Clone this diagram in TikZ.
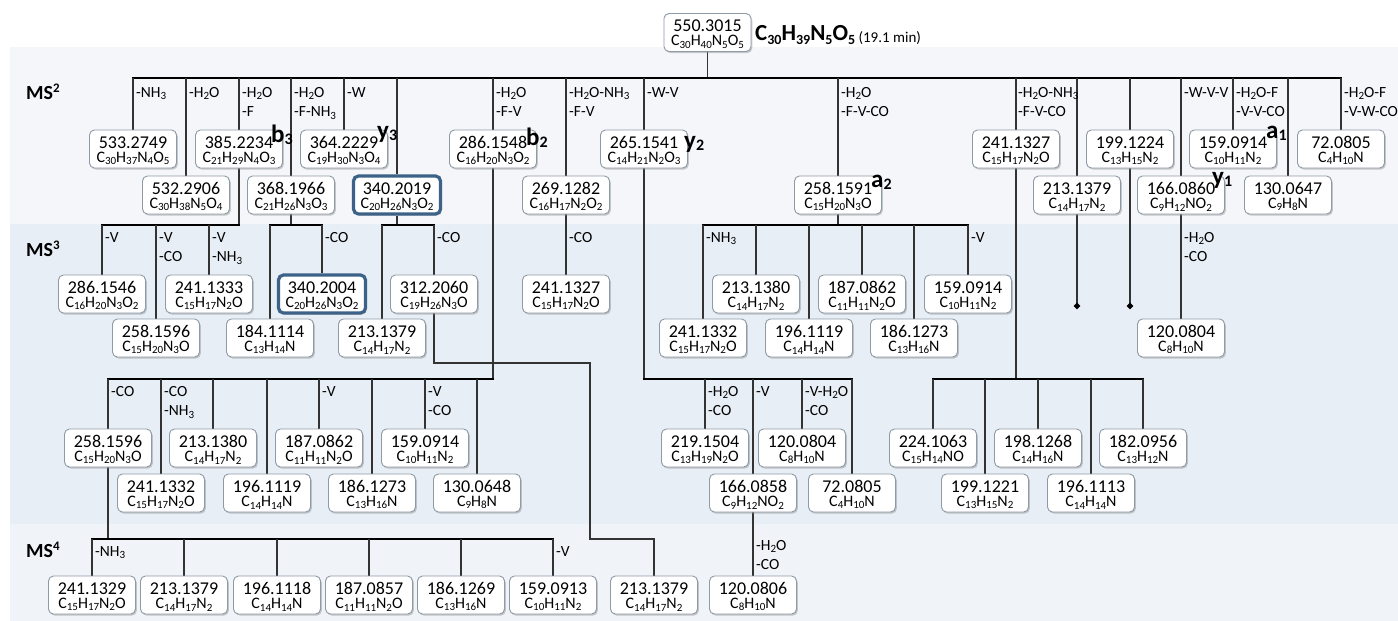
\documentclass[tikz,border=0pt]{standalone}
\usepackage{fontspec}
\setmainfont{Carlito}
\usetikzlibrary{shapes.geometric,shadows}
\definecolor{bandtwo}{HTML}{F4F6FA}
\definecolor{bandthree}{HTML}{E8EEF5}
\definecolor{bandfour}{HTML}{F0F3F7}
\definecolor{bordergray}{HTML}{8E9AA5}
\definecolor{hlblue}{HTML}{3D6287}
\definecolor{linecol}{HTML}{333333}
\pgfdeclarelayer{bands}
\pgfdeclarelayer{wires}
\pgfsetlayers{bands,wires,main}
\newcommand\dn[1]{\raisebox{-2.5pt}{\fontsize{11}{10}\selectfont #1}}
\newcommand\ldn[1]{\raisebox{-2.5pt}{\fontsize{11}{10}\selectfont #1}}
\newcommand\tdn[1]{\raisebox{-4pt}{\fontsize{14}{14}\selectfont #1}}
\newcommand\fdn[1]{\raisebox{-2.5pt}{\fontsize{16}{16}\selectfont #1}}
\newcommand\bx[6][ionbox]{\node[#1] (#2) at (#3,#4) {\rule{0pt}{15.5pt}#5\\{\fontsize{16}{14}\selectfont #6}};}
\newcommand\lb[4]{\node[lab] (#1) at (#2,#3) {#4};}
\begin{document}
\begin{tikzpicture}[x=1pt,y=-1pt,
 ionbox/.style={draw=bordergray, line width=0.9pt, fill=white, rounded corners=5pt,
   minimum width=87pt, minimum height=38pt, inner sep=0pt, align=center,
   font=\fontsize{18}{14}\selectfont,
   drop shadow={shadow xshift=1.3pt, shadow yshift=-1.6pt, fill=black!45, opacity=0.45}},
 hlbox/.style={ionbox, draw=hlblue, line width=3.2pt},
 lab/.style={anchor=north west, inner sep=0pt, align=left, font=\fontsize{15.5}{19.5}\selectfont},
 frag/.style={anchor=base west, inner sep=0pt, font=\fontsize{25}{25}\selectfont\bfseries},
 mslab/.style={anchor=base west, inner sep=0pt, font=\fontsize{20}{20}\selectfont\bfseries},
 ln/.style={draw=linecol, line width=1.3pt},
 bus/.style={draw=black, line width=1.6pt, line cap=rect},
 tip/.style={diamond, fill=black, inner sep=0pt, minimum size=7pt}]
\useasboundingbox (0,0) rectangle (1398,621);
\begin{pgfonlayer}{bands}
\fill[white] (0,0) rectangle (1398,621);
\fill[bandtwo] (10,47) rectangle (1398,224);
\fill[bandthree] (10,224) rectangle (1398,524);
\fill[bandfour] (10,524) rectangle (1398,621);
\end{pgfonlayer}

% precursor
\bx{n550}{707.5}{32.5}{550.3015}{C\dn{30}H\dn{40}N\dn{5}O\dn{5}}
\node[anchor=base west, inner sep=0pt, font=\fontsize{23}{23}\selectfont\bfseries] (title) at (755,40)
 {C\tdn{30}H\tdn{39}N\tdn{5}O\tdn{5}\raisebox{-2pt}{\fontsize{15}{15}\selectfont\mdseries\ (19.1 min)}};

% MS labels
\node[mslab] (ms2) at (26,99) {MS\raisebox{7pt}{\fontsize{13}{13}\selectfont 2}};
\node[mslab] (ms3) at (26,256) {MS\raisebox{7pt}{\fontsize{13}{13}\selectfont 3}};
\node[mslab] (ms4) at (26,557) {MS\raisebox{7pt}{\fontsize{13}{13}\selectfont 4}};

% MS2 row A
\bx{a533}{133}{149}{533.2749}{C\dn{30}H\dn{37}N\dn{4}O\dn{5}}
\bx{a385}{239}{149}{385.2234}{C\dn{21}H\dn{29}N\dn{4}O\dn{3}}
\bx{a364}{344}{149}{364.2229}{C\dn{19}H\dn{30}N\dn{3}O\dn{4}}
\bx{a286}{493}{149}{286.1548}{C\dn{16}H\dn{20}N\dn{3}O\dn{2}}
\bx{a265}{644}{149}{265.1541}{C\dn{14}H\dn{21}N\dn{2}O\dn{3}}
\bx{a241}{1016}{149}{241.1327}{C\dn{15}H\dn{17}N\dn{2}O}
\bx{a199}{1130}{149}{199.1224}{C\dn{13}H\dn{15}N\dn{2}}
\bx{a159}{1233}{149}{159.0914}{C\dn{10}H\dn{11}N\dn{2}}
\bx{a72}{1341}{149}{72.0805}{C\dn{4}H\dn{10}N}
% MS2 row B
\bx{b532}{186}{195}{532.2906}{C\dn{30}H\dn{38}N\dn{5}O\dn{4}}
\bx{b368}{291}{195}{368.1966}{C\dn{21}H\dn{26}N\dn{3}O\dn{3}}
\bx[hlbox]{b340}{397}{195}{340.2019}{C\dn{20}H\dn{26}N\dn{3}O\dn{2}}
\bx{b269}{566}{195}{269.1282}{C\dn{16}H\dn{17}N\dn{2}O\dn{2}}
\bx{b258}{838}{195}{258.1591}{C\dn{15}H\dn{20}N\dn{3}O}
\bx{b213}{1077}{195}{213.1379}{C\dn{14}H\dn{17}N\dn{2}}
\bx{b166}{1181}{195}{166.0860}{C\dn{9}H\dn{12}NO\dn{2}}
\bx{b130}{1288}{195}{130.0647}{C\dn{9}H\dn{8}N}

% MS3 upper rows
\bx{c286}{102}{294}{286.1546}{C\dn{16}H\dn{20}N\dn{3}O\dn{2}}
\bx{c241}{209}{294}{241.1333}{C\dn{15}H\dn{17}N\dn{2}O}
\bx[hlbox]{c340}{322}{294}{340.2004}{C\dn{20}H\dn{26}N\dn{3}O\dn{2}}
\bx{c312}{434}{294}{312.2060}{C\dn{19}H\dn{26}N\dn{3}O}
\bx{c241b}{566}{294}{241.1327}{C\dn{15}H\dn{17}N\dn{2}O}
\bx{c213}{756}{294}{213.1380}{C\dn{14}H\dn{17}N\dn{2}}
\bx{c187}{862}{294}{187.0862}{C\dn{11}H\dn{11}N\dn{2}O}
\bx{c159}{968}{294}{159.0914}{C\dn{10}H\dn{11}N\dn{2}}
\bx{d258}{156}{338}{258.1596}{C\dn{15}H\dn{20}N\dn{3}O}
\bx{d184}{270}{338}{184.1114}{C\dn{13}H\dn{14}N}
\bx{d213}{382}{338}{213.1379}{C\dn{14}H\dn{17}N\dn{2}}
\bx{d241}{703}{338}{241.1332}{C\dn{15}H\dn{17}N\dn{2}O}
\bx{d196}{809}{338}{196.1119}{C\dn{14}H\dn{14}N}
\bx{d186}{914}{338}{186.1273}{C\dn{13}H\dn{16}N}
\bx{d120}{1181}{338}{120.0804}{C\dn{8}H\dn{10}N}

% MS3 lower rows
\bx{e258}{108}{448}{258.1596}{C\dn{15}H\dn{20}N\dn{3}O}
\bx{e213}{213}{448}{213.1380}{C\dn{14}H\dn{17}N\dn{2}}
\bx{e187}{319}{448}{187.0862}{C\dn{11}H\dn{11}N\dn{2}O}
\bx{e159}{425}{448}{159.0914}{C\dn{10}H\dn{11}N\dn{2}}
\bx{e219}{705}{448}{219.1504}{C\dn{13}H\dn{19}N\dn{2}O}
\bx{e120}{802}{448}{120.0804}{C\dn{8}H\dn{10}N}
\bx{e224}{933}{448}{224.1063}{C\dn{15}H\dn{14}NO}
\bx{e198}{1038}{448}{198.1268}{C\dn{14}H\dn{16}N}
\bx{e182}{1143}{448}{182.0956}{C\dn{13}H\dn{12}N}
\bx{f241}{161}{493}{241.1332}{C\dn{15}H\dn{17}N\dn{2}O}
\bx{f196}{267}{493}{196.1119}{C\dn{14}H\dn{14}N}
\bx{f186}{372}{493}{186.1273}{C\dn{13}H\dn{16}N}
\bx{f130}{477}{493}{130.0648}{C\dn{9}H\dn{8}N}
\bx{f166}{753}{493}{166.0858}{C\dn{9}H\dn{12}NO\dn{2}}
\bx{f72}{852}{493}{72.0805}{C\dn{4}H\dn{10}N}
\bx{f199}{985}{493}{199.1221}{C\dn{13}H\dn{15}N\dn{2}}
\bx{f196b}{1091}{493}{196.1113}{C\dn{14}H\dn{14}N}

% MS4 row
\bx{g241}{92}{595}{241.1329}{C\dn{15}H\dn{17}N\dn{2}O}
\bx{g213}{184}{595}{213.1379}{C\dn{14}H\dn{17}N\dn{2}}
\bx{g196}{277}{595}{196.1118}{C\dn{14}H\dn{14}N}
\bx{g187}{369}{595}{187.0857}{C\dn{11}H\dn{11}N\dn{2}O}
\bx{g186}{461}{595}{186.1269}{C\dn{13}H\dn{16}N}
\bx{g159}{553}{595}{159.0913}{C\dn{10}H\dn{11}N\dn{2}}
\bx{g213b}{654}{595}{213.1379}{C\dn{14}H\dn{17}N\dn{2}}
\bx{g120}{753}{595}{120.0806}{C\dn{8}H\dn{10}N}

% diamonds and bend points
\node[tip] (t1) at (1077,306) {};
\node[tip] (t2) at (1130,306) {};
\coordinate (k1) at (590,363);
\coordinate (k2) at (590,539);

% fragment labels
\node[frag] (fb3) at (271,142) {b\fdn{3}};
\node[frag] (fy3) at (377,138) {y\fdn{3}};
\node[frag] (fb2) at (526,145) {b\fdn{2}};
\node[frag] (fy2) at (684,148) {y\fdn{2}};
\node[frag] (fa2) at (871,187) {a\fdn{2}};
\node[frag] (fa1) at (1266,138) {a\fdn{1}};
\node[frag] (fy1) at (1212,184) {y\fdn{1}};

% loss labels MS2
\lb{l1}{136}{87}{-NH\ldn{3}}
\lb{l2}{189}{87}{-H\ldn{2}O}
\lb{l3}{242}{87}{-H\ldn{2}O\\-F}
\lb{l4}{294}{87}{-H\ldn{2}O\\-F-NH\ldn{3}}
\lb{l5}{347}{87}{-W}
\lb{l6}{496}{87}{-H\ldn{2}O\\-F-V}
\lb{l7}{569}{87}{-H\ldn{2}O-NH\ldn{3}\\-F-V}
\lb{l8}{647}{87}{-W-V}
\lb{l9}{841}{87}{-H\ldn{2}O\\-F-V-CO}
\lb{l10}{1018}{87}{-H\ldn{2}O-NH\ldn{3}\\-F-V-CO}
\lb{l11}{1184}{87}{-W-V-V}
\lb{l12}{1236}{87}{-H\ldn{2}O-F\\-V-V-CO}
\lb{l13}{1344}{87}{-H\ldn{2}O-F\\-V-W-CO}
% MS3 upper
\lb{m1}{105}{232}{-V}
\lb{m2}{159}{232}{-V\\-CO}
\lb{m3}{212}{232}{-V\\-NH\ldn{3}}
\lb{m4}{325}{232}{-CO}
\lb{m5}{437}{232}{-CO}
\lb{m6}{569}{232}{-CO}
\lb{m7}{706}{232}{-NH\ldn{3}}
\lb{m8}{971}{232}{-V}
\lb{m9}{1184}{232}{-H\ldn{2}O\\-CO}
% MS3 lower
\lb{o1}{111}{386}{-CO}
\lb{o2}{164}{386}{-CO\\-NH\ldn{3}}
\lb{o3}{322}{386}{-V}
\lb{o4}{428}{386}{-V\\-CO}
\lb{o5}{708}{386}{-H\ldn{2}O\\-CO}
\lb{o6}{756}{386}{-V}
\lb{o7}{805}{386}{-V-H\ldn{2}O\\-CO}
% MS4
\lb{p1}{95}{546}{-NH\ldn{3}}
\lb{p2}{556}{546}{-V}
\lb{p3}{756}{540}{-H\ldn{2}O\\-CO}

\begin{pgfonlayer}{wires}
% MS2
\draw[ln] (n550.south) -- (n550.south |- 0,78);
\draw[bus] (a533.north |- 0,78) -- (a72.north |- 0,78);
\foreach \c in {a533,b532,a385,b368,a364,b340,a286,b269,a265,b258,a241,b213,a199,b166,a159,b130,a72}
  \draw[ln] (\c.north) -- (\c.north |- 0,78);
% from 385.2234
\draw[ln] (a385.south) -- (a385.south |- 0,225);
\draw[bus] (c286.north |- 0,225) -- (a385.south |- 0,225);
\foreach \c in {c286,d258,c241} \draw[ln] (\c.north) -- (\c.north |- 0,225);
% from 368.1966
\draw[ln] (b368.south) -- (b368.south |- 0,225);
\draw[bus] (d184.north |- 0,225) -- (c340.north |- 0,225);
\foreach \c in {d184,c340} \draw[ln] (\c.north) -- (\c.north |- 0,225);
% from 340.2019
\draw[ln] (b340.south) -- (b340.south |- 0,225);
\draw[bus] (d213.north |- 0,225) -- (c312.north |- 0,225);
\foreach \c in {d213,c312} \draw[ln] (\c.north) -- (\c.north |- 0,225);
% from 269.1282
\draw[ln] (b269.south) -- (c241b.north);
% from 258.1591
\draw[ln] (b258.south) -- (b258.south |- 0,225);
\draw[bus] (d241.north |- 0,225) -- (c159.north |- 0,225);
\foreach \c in {d241,c213,d196,c187,d186,c159} \draw[ln] (\c.north) -- (\c.north |- 0,225);
% diamonds
\draw[ln] (b213.south) -- (t1.center);
\draw[ln] (a199.south) -- (t2.center);
% from 166.0860
\draw[ln] (b166.south) -- (d120.north);
% from 286.1548
\draw[ln] (a286.south) -- (a286.south |- 0,379);
\draw[bus] (e258.north |- 0,379) -- (a286.south |- 0,379);
\foreach \c in {e258,f241,e213,f196,e187,f186,e159,f130} \draw[ln] (\c.north) -- (\c.north |- 0,379);
% from 265.1541
\draw[ln] (a265.south) -- (a265.south |- 0,379);
\draw[bus] (a265.south |- 0,379) -- (f72.north |- 0,379);
\foreach \c in {e219,f166,e120,f72} \draw[ln] (\c.north) -- (\c.north |- 0,379);
% from 241.1327
\draw[ln] (a241.south) -- (a241.south |- 0,379);
\draw[bus] (e224.north |- 0,379) -- (e182.north |- 0,379);
\foreach \c in {e224,f199,e198,f196b,e182} \draw[ln] (\c.north) -- (\c.north |- 0,379);
% from 312.2060
\draw[ln] (c312.south) |- (k1) -- (k2) -| (g213b.north);
% from 258.1596
\draw[ln] (e258.south) -- (e258.south |- 0,539);
\draw[bus] (g241.north |- 0,539) -- (g159.north |- 0,539);
\foreach \c in {g241,g213,g196,g187,g186,g159} \draw[ln] (\c.north) -- (\c.north |- 0,539);
% from 166.0858
\draw[ln] (f166.south) -- (g120.north);
\end{pgfonlayer}
\end{tikzpicture}
\end{document}
